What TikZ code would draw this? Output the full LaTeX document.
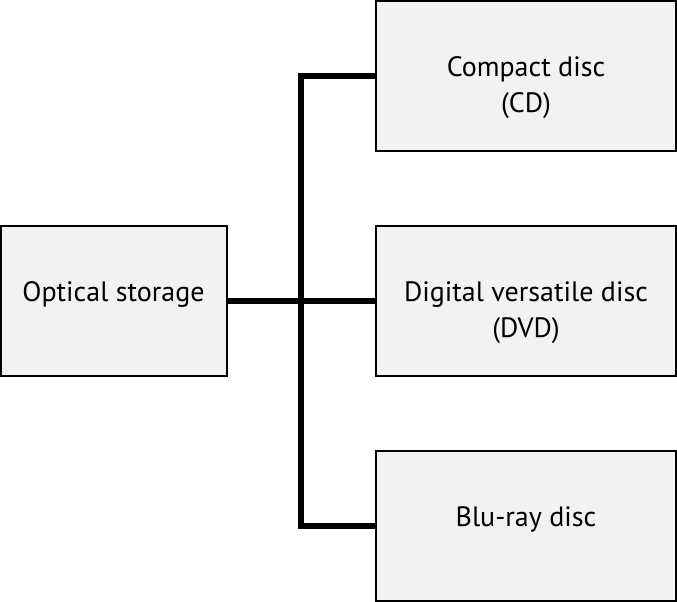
\documentclass[tikz,border=0pt]{standalone}
\usepackage{fontspec}
\setmainfont{PT Sans}
\usepackage{tikz}
\usetikzlibrary{positioning}

\begin{document}
\begin{tikzpicture}[x=1pt,y=-1pt,every node/.style={rectangle,draw=black,line width=2pt,fill=black!5,align=center,font=\fontsize{28}{36}\selectfont,inner sep=0pt,text height=0pt,text depth=0pt},
	wide/.style={minimum width=300pt,minimum height=150pt},
	twoline/.style={text height=72pt}]
		\useasboundingbox (0,0) rectangle (677,602);

		%left node
		\node[minimum width=226pt,minimum height=150pt] (os) at (113.5,301) {Optical storage};

		%right nodes
		\node[wide,twoline] (cd) at (526,76) {Compact disc\\(CD)};
		\node[wide,twoline] (dvd) at (526,301) {Digital versatile disc\\(DVD)};
		\node[wide] (br) at (526,526) {Blu-ray disc};

		%trunk
		\coordinate (top) at (301,76);
		\coordinate (bot) at (301,526);

		%edges
		\draw[line width=5.5pt] (os) -- (dvd);
		\draw[line width=5.5pt] (cd.west) -- (top) -- (bot) -- (br.west);
\end{tikzpicture}
\end{document}
